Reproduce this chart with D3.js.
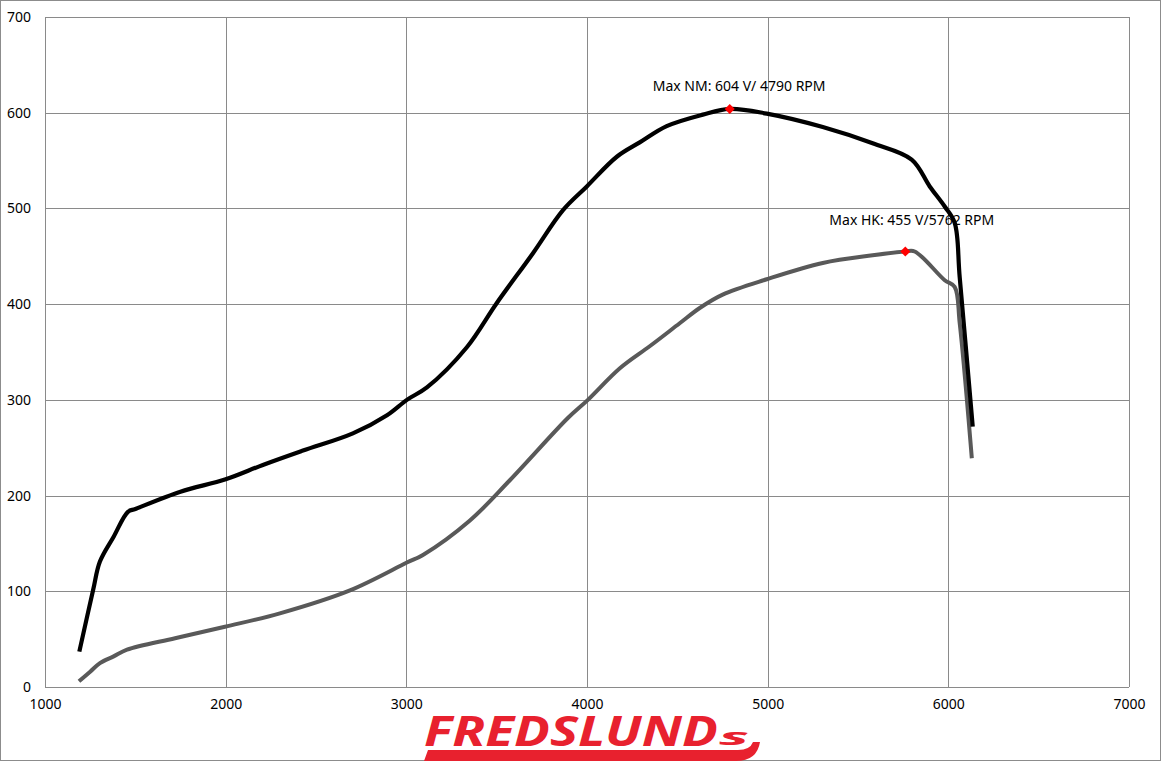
<!DOCTYPE html>
<html>
<head>
<meta charset="utf-8">
<script src="https://cdn.jsdelivr.net/npm/d3@7"></script>
<style>
  body { margin: 0; background: #fff; }
  text { font-family: "Noto Sans", "Open Sans", sans-serif; }
</style>
</head>
<body>
<div id="dyno"></div>
<script>
var w = 1161, h = 761; // size of the picture
var plotLeft = 45, plotRight = 1129, plotTop = 17, plotBottom = 687; // plot area

// torque curve (NM)
var nmRpm = [1190, 1266, 1304, 1380, 1459, 1500, 1750, 2000, 2206, 2428, 2704, 2893, 3003, 3114, 3335, 3500, 3700, 3866, 3999, 4165, 4292, 4441, 4641, 4790, 4995, 5305, 5581, 5797, 5897, 5980, 6035, 6063, 6135];
var nmVal = [37, 101, 131, 157, 183, 186, 204, 217, 232, 247, 265, 284, 300, 313, 355, 401, 453, 498, 523, 554, 569, 586, 598, 604, 599, 585, 568, 551, 523, 502, 485, 428, 272];

// power curve (HK)
var hkRpm = [1188, 1250, 1304, 1380, 1454, 1720, 1996, 2300, 2688, 3003, 3092, 3352, 3573, 3894, 4005, 4182, 4347, 4513, 4624, 4751, 4995, 5305, 5581, 5762, 5814, 5980, 6035, 6063, 6130];
var hkVal = [6, 16, 25, 32, 39, 51, 63, 77, 101, 130, 138, 174, 216, 281, 300, 333, 356, 380, 396, 410, 426, 443, 451, 455, 455, 425, 418, 380, 239];

// peak markers
var peakRpm = [4790, 5762];
var peakVal = [604, 455];
var peakLabels = ["Max NM: 604 V/ 4790 RPM", "Max HK: 455 V/5762 RPM"];

var xTicks = [1000, 2000, 3000, 4000, 5000, 6000, 7000];
var yTicks = [0, 100, 200, 300, 400, 500, 600, 700];

var svg = d3.select("#dyno")
    .append("svg")
    .attr("width", w)
    .attr("height", h);

var x = d3.scaleLinear().domain([1000, 7000]).range([plotLeft, plotRight]);
var y = d3.scaleLinear().domain([0, 700]).range([plotBottom, plotTop]);

// outer frame
svg.append("rect")
    .attr("x", 0.5).attr("y", 0.5)
    .attr("width", w - 1).attr("height", h - 1)
    .attr("fill", "#fff").attr("stroke", "#8c8c8c");

// grid
svg.append("g").selectAll("line")
    .data(xTicks)
    .enter().append("line")
    .attr("x1", function(d) { return Math.round(x(d)) + 0.5; })
    .attr("x2", function(d) { return Math.round(x(d)) + 0.5; })
    .attr("y1", plotTop).attr("y2", plotBottom)
    .attr("stroke", "#8a8a8a");

svg.append("g").selectAll("line")
    .data(yTicks)
    .enter().append("line")
    .attr("y1", function(d) { return Math.round(y(d)) + 0.5; })
    .attr("y2", function(d) { return Math.round(y(d)) + 0.5; })
    .attr("x1", plotLeft).attr("x2", plotRight)
    .attr("stroke", "#8a8a8a");

// axes, only the labels are shown
svg.append("g")
    .attr("transform", "translate(0," + plotBottom + ")")
    .call(d3.axisBottom(x).tickValues(xTicks).tickSize(0).tickPadding(12).tickFormat(d3.format("d")));
svg.append("g")
    .attr("transform", "translate(" + plotLeft + ",0)")
    .call(d3.axisLeft(y).tickValues(yTicks).tickSize(0).tickPadding(14).tickFormat(d3.format("d")));
svg.selectAll(".domain").remove();
svg.selectAll(".tick text")
    .attr("font-family", "Noto Sans")
    .attr("font-size", 14)
    .attr("fill", "#000");

// curves (centripetal catmull-rom keeps the kinks without overshoot)
var line = d3.line()
    .x(function(d) { return x(d[0]); })
    .y(function(d) { return y(d[1]); })
    .curve(d3.curveCatmullRom.alpha(0.5));

svg.append("path")
    .datum(d3.zip(hkRpm, hkVal))
    .attr("d", line)
    .attr("fill", "none")
    .attr("stroke", "#595959")
    .attr("stroke-width", 4)
    .attr("stroke-linejoin", "round");

svg.append("path")
    .datum(d3.zip(nmRpm, nmVal))
    .attr("d", line)
    .attr("fill", "none")
    .attr("stroke", "#000")
    .attr("stroke-width", 4.2)
    .attr("stroke-linejoin", "round");

// peak markers and their labels
var peaks = d3.zip(peakRpm, peakVal, peakLabels);
var labelOffset = [[-77, -18], [-76, -27]];

svg.append("g").selectAll("path")
    .data(peaks)
    .enter().append("path")
    .attr("d", d3.symbol().type(d3.symbolDiamond2).size(64))
    .attr("transform", function(d) { return "translate(" + x(d[0]) + "," + y(d[1]) + ")"; })
    .attr("fill", "#ff0000");

svg.append("g").selectAll("text")
    .data(peaks)
    .enter().append("text")
    .attr("x", function(d, i) { return x(d[0]) + labelOffset[i][0]; })
    .attr("y", function(d, i) { return y(d[1]) + labelOffset[i][1]; })
    .attr("font-size", 14)
    .attr("fill", "#000")
    .text(function(d) { return d[2]; });

// logo at the bottom
var logo = svg.append("g");
logo.append("text")
    .attr("x", 424).attr("y", 746)
    .attr("font-family", "DejaVu Sans")
    .attr("font-weight", "bold")
    .attr("font-style", "italic")
    .attr("font-size", 41)
    .attr("textLength", 294)
    .attr("lengthAdjust", "spacingAndGlyphs")
    .attr("fill", "#e8212e")
    .text("FREDSLUND");
logo.append("text")
    .attr("x", 719).attr("y", 745)
    .attr("font-family", "DejaVu Sans")
    .attr("font-weight", "bold")
    .attr("font-style", "italic")
    .attr("font-size", 24)
    .attr("textLength", 30)
    .attr("lengthAdjust", "spacingAndGlyphs")
    .attr("fill", "#e8212e")
    .text("s");
logo.append("path")
    .attr("d", "M428,750 L738,750 Q750,750 753,742 L760,742 Q757,761 736,761 L424,761 Z")
    .attr("fill", "#e8212e");
</script>
</body>
</html>
